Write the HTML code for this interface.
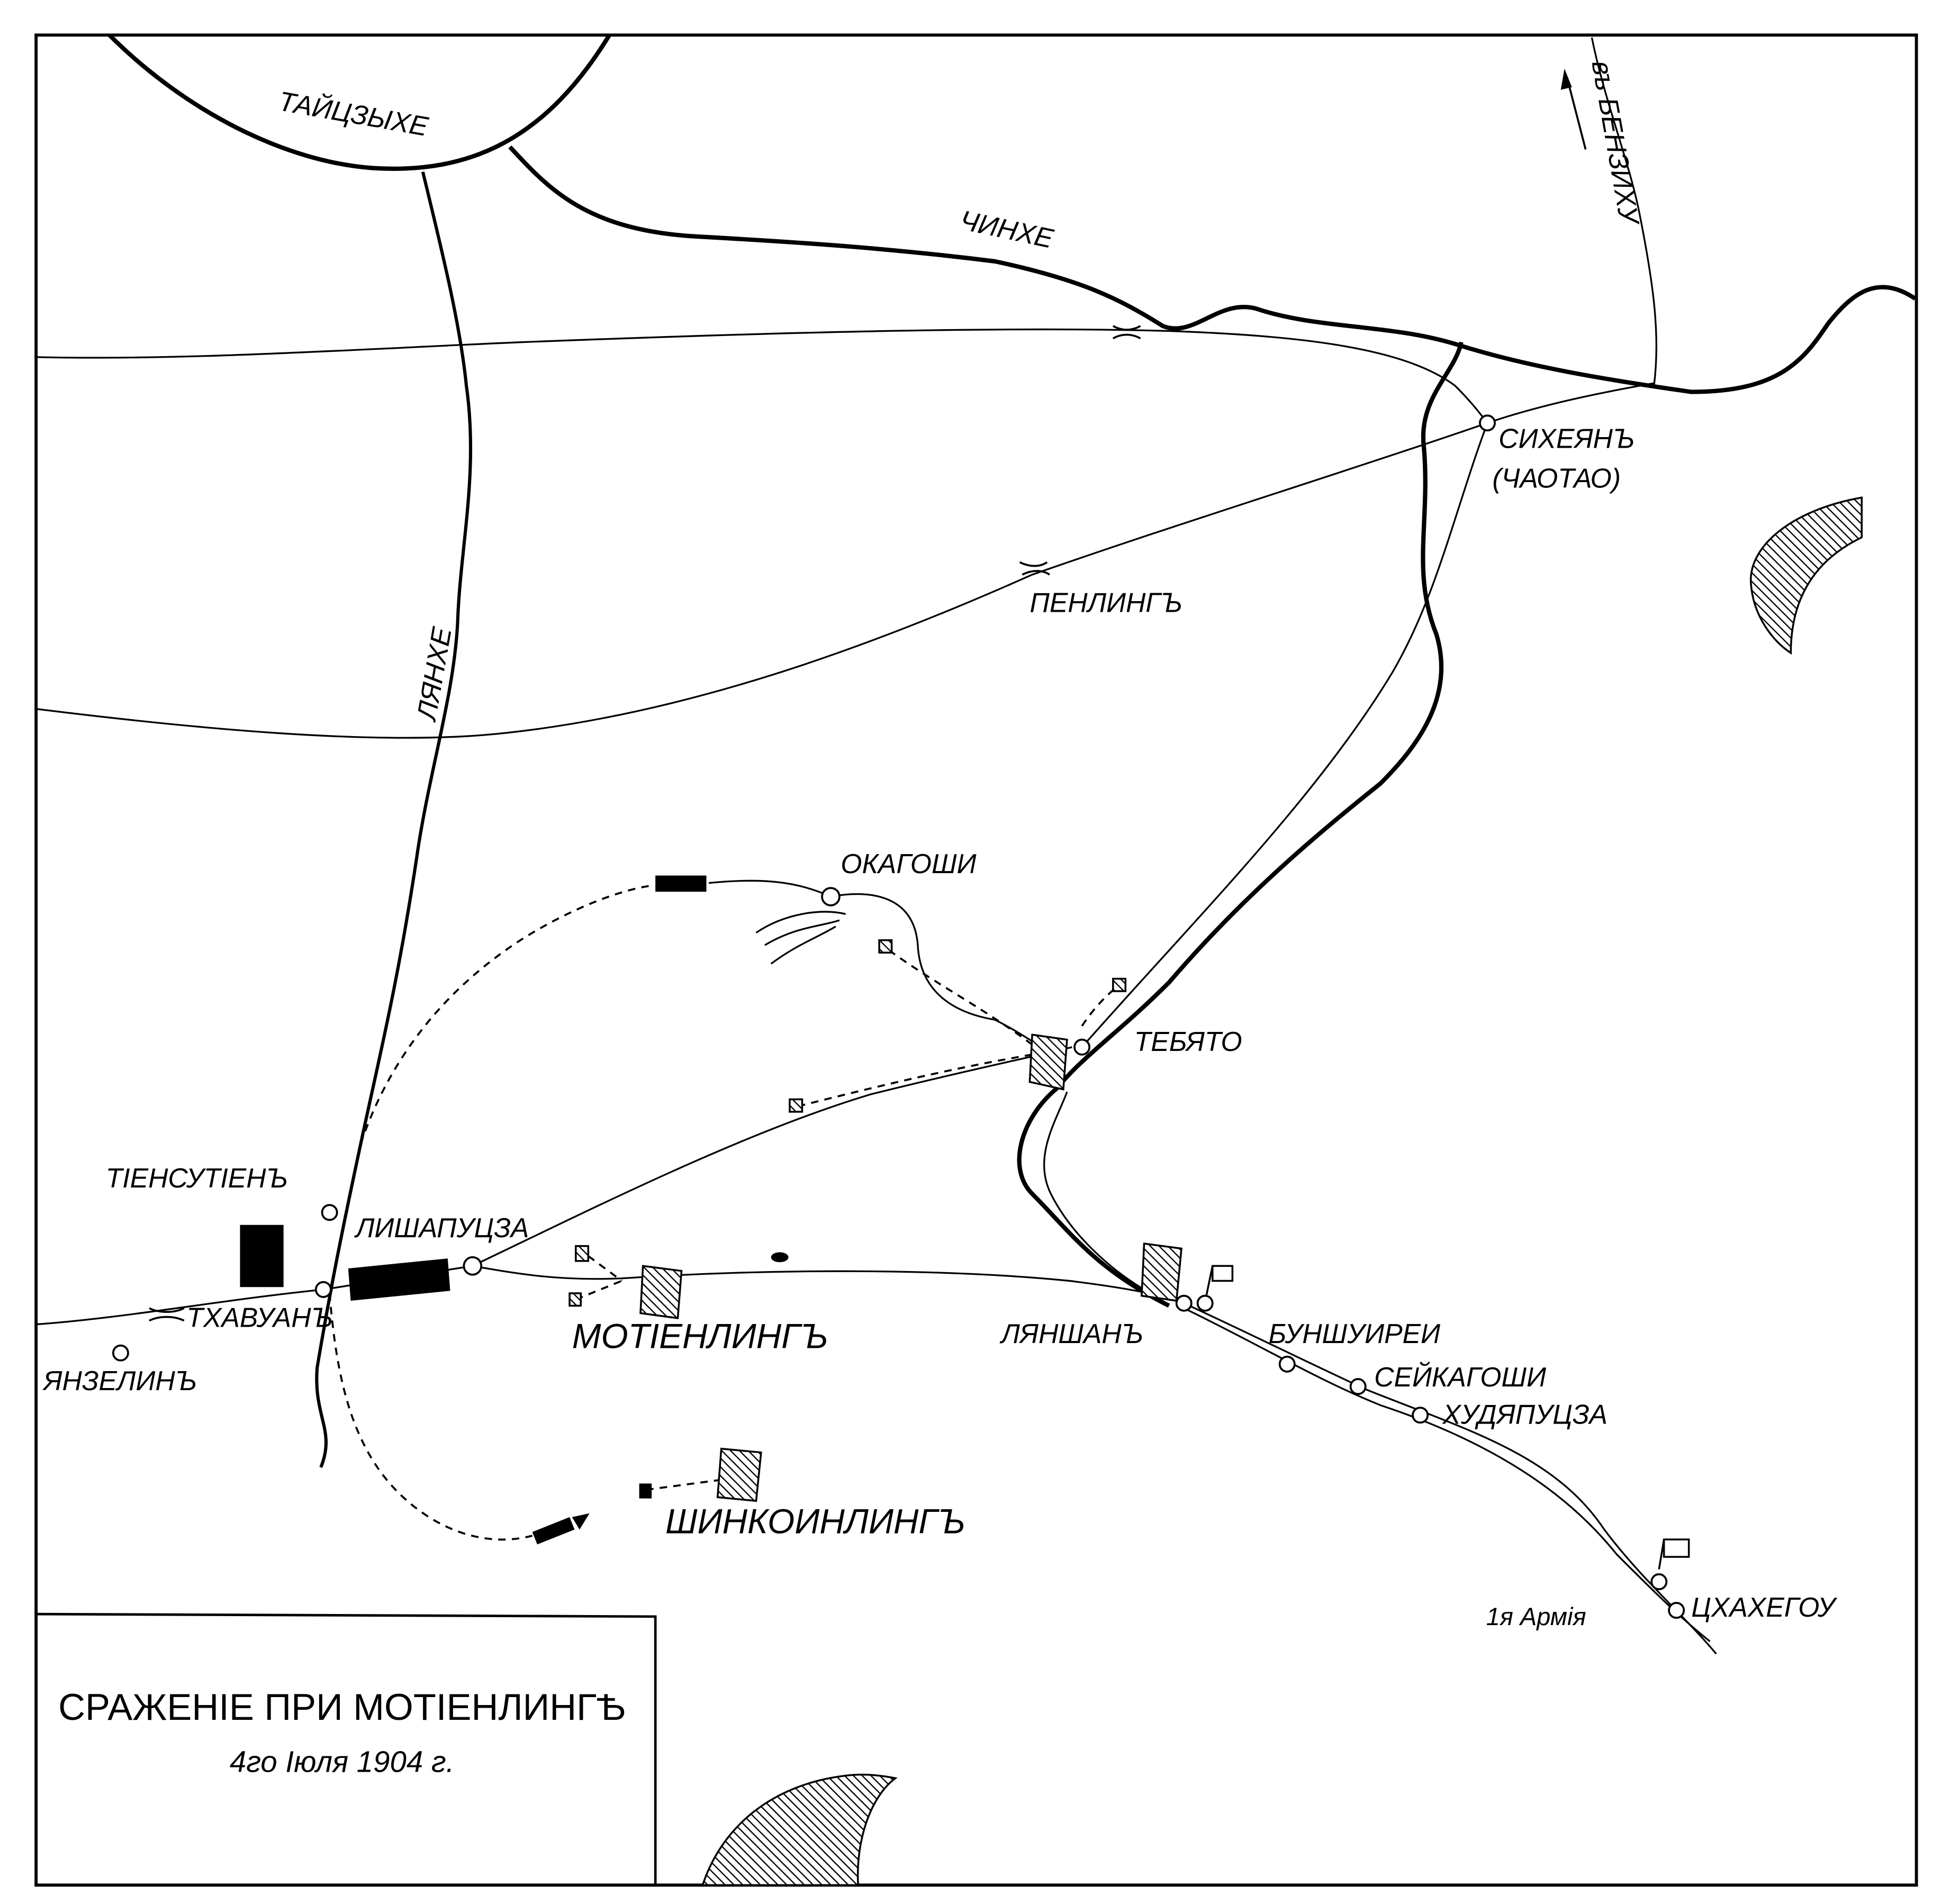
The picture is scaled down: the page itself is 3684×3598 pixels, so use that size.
<!DOCTYPE html>
<html><head><meta charset="utf-8"><style>
html,body{margin:0;padding:0;background:#fff}
svg{display:block}
text{font-family:"Liberation Sans",sans-serif;font-style:italic;fill:#000}
</style></head><body>
<svg width="3684" height="3598" viewBox="0 0 1568 1531" xmlns="http://www.w3.org/2000/svg">
<defs>
<pattern id="h" width="5" height="5" patternUnits="userSpaceOnUse" patternTransform="rotate(-45)">
<rect width="5" height="5" fill="#fff"/><line x1="0" y1="0" x2="0" y2="5" stroke="#000" stroke-width="2"/>
</pattern>
</defs>
<rect x="0" y="0" width="1568" height="1531" fill="#fff"/>
<rect x="29" y="28" width="1512" height="1488" fill="none" stroke="#000" stroke-width="2.5"/>
<path d="M29,1298 L527,1300 L527,1516" fill="none" stroke="#000" stroke-width="2"/>
<text x="275" y="1383" font-size="30" text-anchor="middle" style="font-style:normal">СРАЖЕНІЕ ПРИ МОТІЕНЛИНГѢ</text>
<text x="275" y="1425" font-size="24" text-anchor="middle">4го Іюля 1904 г.</text>

<g fill="none" stroke="#000" stroke-width="3.5" stroke-linejoin="round">
<path d="M88,28 C150,90 230,130 300,135 C380,140 440,110 490,28"/>
<path d="M410,118 C440,150 470,185 560,190 C650,195 720,200 800,210 C870,225 900,240 935,262 C960,272 980,240 1010,248 C1060,265 1120,260 1175,278 C1230,295 1290,305 1360,315 C1430,315 1450,290 1470,260 C1490,235 1510,220 1540,240"/>
<path d="M1175,275 C1170,300 1140,320 1145,360 C1150,420 1135,460 1155,510 C1170,560 1140,600 1110,630 C1060,670 1000,720 940,790 C900,830 870,850 850,875 C820,900 810,940 830,960 C860,990 880,1020 940,1050"/>
</g>
<g fill="none" stroke="#000" stroke-width="2.6">
<path d="M340,138 C355,200 370,260 375,310 C385,380 370,440 368,500 C365,560 345,620 335,690 C320,790 305,850 290,920 C275,990 265,1040 255,1100 C252,1140 270,1150 258,1180"/>
</g>
<g fill="none" stroke="#000" stroke-width="1.4">
<path d="M29,287 C150,290 300,280 420,275 C600,268 800,262 940,266 C1050,270 1130,280 1170,310 C1185,325 1192,335 1196,340"/>
<path d="M29,570 C150,585 300,600 400,590 C550,575 700,520 830,462 C950,420 1080,380 1196,340"/>
<path d="M1196,340 C1240,325 1290,315 1330,308"/>
<path d="M1280,30 C1290,80 1310,130 1318,170 C1330,230 1335,270 1330,310"/>
<path d="M1196,340 C1170,410 1155,480 1120,540 C1060,640 960,740 870,842"/>
<path d="M380,1018 C480,970 600,910 700,880 C780,860 830,850 862,842"/>
<path d="M29,1065 C100,1060 180,1045 260,1037 L380,1018 C420,1025 450,1030 500,1028 C620,1020 760,1020 860,1030 C900,1035 930,1040 952,1048 C1000,1070 1050,1095 1100,1118 C1180,1150 1250,1170 1290,1230 C1320,1270 1355,1300 1380,1330"/>
<path d="M952,1052 C1010,1080 1060,1110 1110,1130 C1200,1160 1260,1200 1300,1250 C1330,1280 1350,1300 1375,1320"/>
<path d="M570,710 C610,706 640,708 668,721 C700,715 735,720 738,760 C740,800 770,815 800,820 C820,830 830,838 845,846"/>
<path d="M858,878 C850,900 830,930 845,960 C860,990 890,1020 925,1040"/>
<path d="M608,750 C630,735 660,730 680,735 M615,760 C640,745 660,745 675,740 M620,775 C640,760 655,755 672,745"/>
</g>
<path d="M1275,120 L1260,62" stroke="#000" stroke-width="1.6"/>
<path d="M1258,55 L1255,72 L1264,70 Z" fill="#000"/>
<g fill="none" stroke="#000" stroke-width="1.6" stroke-dasharray="6,5">
<path d="M290,920 C310,860 350,800 420,755 C460,730 500,715 525,712"/>
<path d="M265,1040 C270,1100 280,1160 320,1200 C350,1230 390,1245 428,1235"/>
<path d="M830,848 C760,860 700,875 640,890"/>
<path d="M830,840 C790,810 750,790 712,762"/>
<path d="M870,825 C880,810 890,800 900,792"/>
<path d="M580,1190 L520,1198"/>
<path d="M473,1010 L500,1030 M463,1045 L500,1030"/>
</g>
<g fill="#000">
<rect x="193" y="985" width="35" height="50"/>
<polygon points="280,1020 360,1012 362,1038 282,1046"/>
<rect x="527" y="704" width="41" height="13"/>
<polygon points="428,1232 458,1220 462,1230 432,1242"/>
<path d="M474,1217 L460,1220 L466,1230 Z"/>
<ellipse cx="627" cy="1011" rx="7" ry="4"/>
<rect x="514" y="1193" width="10" height="12"/>
</g>
<g fill="url(#h)" stroke="#000" stroke-width="1.5">
<polygon points="830,832 858,836 855,876 828,870"/>
<polygon points="517,1018 548,1022 545,1060 515,1056"/>
<polygon points="920,1000 950,1004 946,1046 918,1042"/>
<polygon points="580,1165 612,1168 608,1207 577,1204"/>
<rect x="463" y="1002" width="10" height="12"/>
<rect x="458" y="1040" width="9" height="10"/>
<rect x="635" y="884" width="10" height="10"/>
<rect x="707" y="756" width="10" height="10"/>
<rect x="895" y="787" width="10" height="10"/>
<path d="M1497,400 C1440,410 1405,440 1408,470 C1410,495 1425,515 1440,525 C1440,480 1460,450 1497,432 Z"/>
<path d="M565,1516 C580,1470 620,1435 680,1428 C695,1426 710,1428 720,1430 C700,1445 688,1480 690,1516 Z"/>
</g>
<g fill="#fff" stroke="#000" stroke-width="1.5">
<rect x="975" y="1018" width="16" height="12"/>
<rect x="1338" y="1238" width="20" height="14"/>
</g>
<line x1="975" y1="1018" x2="970" y2="1042" stroke="#000" stroke-width="1.5"/>
<line x1="1338" y1="1238" x2="1334" y2="1262" stroke="#000" stroke-width="1.5"/>
<g fill="#fff" stroke="#000" stroke-width="1.6">
<circle cx="265" cy="975" r="6"/><circle cx="260" cy="1037" r="6"/><circle cx="380" cy="1018" r="7"/>
<circle cx="668" cy="721" r="7"/><circle cx="870" cy="842" r="6"/><circle cx="952" cy="1048" r="6"/>
<circle cx="969" cy="1048" r="6"/><circle cx="1035" cy="1097" r="6"/><circle cx="1092" cy="1115" r="6"/>
<circle cx="1142" cy="1138" r="6"/><circle cx="1348" cy="1295" r="6"/><circle cx="1334" cy="1272" r="6"/>
<circle cx="1196" cy="340" r="6"/><circle cx="97" cy="1088" r="6"/>
</g>
<g stroke="#000" stroke-width="1.6" fill="none">
<path d="M895,262 C902,266 910,266 917,262 M895,272 C902,268 910,268 917,272"/>
<path d="M820,452 C828,456 836,456 842,452 M822,462 C830,458 838,458 844,462"/>
<path d="M120,1052 C128,1056 140,1056 148,1052 M120,1062 C128,1058 140,1058 148,1062"/>
</g>
<g font-size="22">
<text x="222" y="100" transform="rotate(10 290 100)">ТАЙЦЗЫХЕ</text>
<text x="770" y="192" transform="rotate(12 810 192)">ЧИНХЕ</text>
<text x="1280" y="50" transform="rotate(80 1280 50)">въ БЕНЗИХУ</text>
<text x="1205" y="360">СИХЕЯНЪ</text>
<text x="1200" y="392">(ЧАОТАО)</text>
<text x="828" y="492">ПЕНЛИНГЪ</text>
<text x="350" y="580" transform="rotate(-80 350 580)">ЛЯНХЕ</text>
<text x="676" y="702">ОКАГОШИ</text>
<text x="912" y="845">ТЕБЯТО</text>
<text x="85" y="955">ТІЕНСУТІЕНЪ</text>
<text x="286" y="995">ЛИШАПУЦЗА</text>
<text x="150" y="1067">ТХАВУАНЪ</text>
<text x="35" y="1118">ЯНЗЕЛИНЪ</text>
<text x="460" y="1084" font-size="28">МОТІЕНЛИНГЪ</text>
<text x="805" y="1080">ЛЯНШАНЪ</text>
<text x="1020" y="1080">БУНШУИРЕИ</text>
<text x="1105" y="1115">СЕЙКАГОШИ</text>
<text x="1160" y="1145">ХУДЯПУЦЗА</text>
<text x="535" y="1233" font-size="28">ШИНКОИНЛИНГЪ</text>
<text x="1195" y="1307" font-size="20">1я Армія</text>
<text x="1360" y="1300">ЦХАХЕГОУ</text>
</g>
</svg>
</body></html>
